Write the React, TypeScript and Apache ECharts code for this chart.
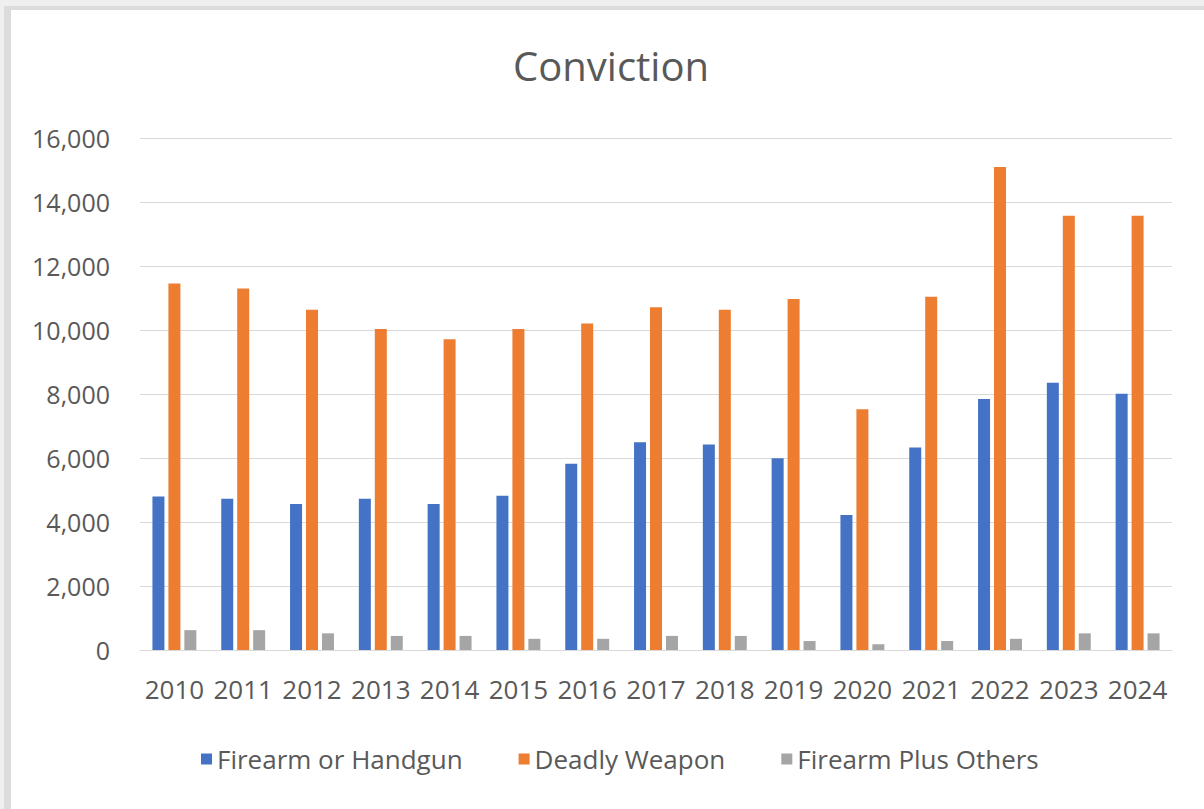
import React, { useEffect, useRef } from "react";
import * as echarts from "echarts";

const years = ["2010", "2011", "2012", "2013", "2014", "2015", "2016", "2017", "2018", "2019", "2020", "2021", "2022", "2023", "2024"];
const firearmOrHandgun = [4800, 4730, 4560, 4730, 4560, 4820, 5820, 6490, 6420, 5990, 4220, 6330, 7840, 8350, 8010];
const deadlyWeapon = [11450, 11300, 10630, 10030, 9710, 10030, 10200, 10710, 10630, 10970, 7520, 11040, 15090, 13570, 13570];
const firearmPlusOthers = [620, 620, 520, 440, 440, 350, 350, 440, 440, 280, 180, 280, 350, 520, 520];
const seriesNames = ["Firearm or Handgun", "Deadly Weapon", "Firearm Plus Others"];
const seriesColors = ["#4472C4", "#ED7D31", "#A5A5A5"];

const FONT = "'Open Sans', sans-serif";
const TEXT = "#595959";

export default function App() {
  const ref = useRef<HTMLDivElement>(null);
  useEffect(() => {
    if (!ref.current) return;
    const chart = echarts.init(ref.current, undefined, { renderer: "svg" });
    const data = [firearmOrHandgun, deadlyWeapon, firearmPlusOthers];
    chart.setOption({
      animation: false,
      backgroundColor: "#efefef",
      graphic: [
        { type: "rect", z: -10, shape: { x: 4, y: 6, width: 1200, height: 803 }, style: { fill: "#dcdcdc" } },
        { type: "rect", z: -9, shape: { x: 11, y: 10, width: 1193, height: 799 }, style: { fill: "#ffffff" } },
      ],
      title: {
        text: "Conviction",
        left: 606,
        textAlign: "center",
        top: 40,
        textStyle: { fontFamily: FONT, fontSize: 40, fontWeight: "normal", color: TEXT },
      },
      legend: {
        bottom: 32,
        left: 196,
        itemWidth: 11,
        itemHeight: 11,
        itemGap: 56,
        icon: "rect",
        textStyle: { fontFamily: FONT, fontSize: 26, color: TEXT },
        data: seriesNames,
      },
      grid: { left: 140, right: 32, top: 138, bottom: 159, containLabel: false },
      xAxis: {
        type: "category",
        data: years,
        axisLine: { show: true, lineStyle: { color: "#d9d9d9", width: 1 } },
        axisTick: { show: false },
        axisLabel: { fontFamily: FONT, fontSize: 26, color: TEXT, margin: 26, interval: 0, hideOverlap: false },
      },
      yAxis: {
        type: "value",
        min: 0,
        max: 16000,
        interval: 2000,
        axisLine: { show: false },
        axisTick: { show: false },
        splitLine: { lineStyle: { color: "#d9d9d9", width: 1 } },
        axisLabel: {
          fontFamily: FONT,
          fontSize: 25,
          color: TEXT,
          margin: 30,
          formatter: (v: number) => v.toLocaleString("en-US"),
        },
      },
      series: seriesNames.map((name, i) => ({
        name,
        type: "bar",
        data: data[i],
        barWidth: 12,
        barGap: "33%",
        itemStyle: { color: seriesColors[i] },
      })),
    });
    return () => chart.dispose();
  }, []);
  return <div ref={ref} style={{ position: "fixed", left: 0, top: 0, width: 1204, height: 809 }} />;
}
